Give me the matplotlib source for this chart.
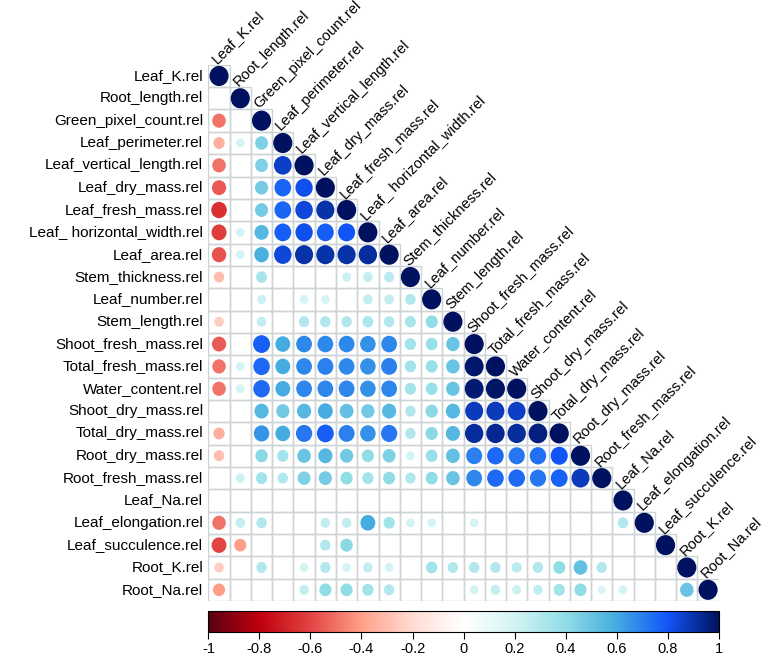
import numpy as np
import matplotlib
matplotlib.use("Agg")
from matplotlib import pyplot as plt
from matplotlib.colors import LinearSegmentedColormap, Normalize
from matplotlib.patches import Ellipse, Rectangle
from matplotlib.cm import ScalarMappable

plt.rcParams['font.family'] = ['Liberation Sans', 'DejaVu Sans']

variables = ['Leaf_K.rel', 'Root_length.rel', 'Green_pixel_count.rel', 'Leaf_perimeter.rel',
             'Leaf_vertical_length.rel', 'Leaf_dry_mass.rel', 'Leaf_fresh_mass.rel',
             'Leaf_ horizontal_width.rel', 'Leaf_area.rel', 'Stem_thickness.rel',
             'Leaf_number.rel', 'Stem_length.rel', 'Shoot_fresh_mass.rel',
             'Total_fresh_mass.rel', 'Water_content.rel', 'Shoot_dry_mass.rel',
             'Total_dry_mass.rel', 'Root_dry_mass.rel', 'Root_fresh_mass.rel',
             'Leaf_Na.rel', 'Leaf_elongation.rel', 'Leaf_succulence.rel',
             'Root_K.rel', 'Root_Na.rel']

N = None
# lower triangle, row i holds correlations with columns 0..i-1 (None = not significant)
lower = [
    [],
    [N],
    [-0.5, N],
    [-0.35, 0.2, 0.45],
    [-0.5, N, 0.45, 0.86],
    [-0.55, N, 0.47, 0.76, 0.82],
    [-0.66, N, 0.47, 0.76, 0.84, 0.9],
    [-0.62, 0.2, 0.55, 0.78, 0.82, 0.78, 0.8],
    [-0.57, 0.2, 0.58, 0.84, 0.9, 0.9, 0.9, 0.92],
    [-0.3, N, 0.33, N, N, N, 0.22, 0.25, 0.28],
    [N, N, 0.22, N, 0.2, 0.2, N, 0.25, 0.25, 0.3],
    [-0.25, N, 0.25, N, 0.3, 0.3, 0.3, 0.32, 0.3, 0.33, 0.4],
    [-0.55, N, 0.78, 0.6, 0.68, 0.68, 0.68, 0.66, 0.68, 0.35, 0.38, 0.5],
    [-0.5, 0.2, 0.75, 0.6, 0.68, 0.7, 0.68, 0.66, 0.7, 0.35, 0.38, 0.5, 0.98],
    [-0.5, 0.2, 0.75, 0.6, 0.68, 0.68, 0.68, 0.66, 0.68, 0.35, 0.38, 0.5, 0.97, 0.99],
    [N, N, 0.55, 0.48, 0.55, 0.6, 0.52, 0.48, 0.55, 0.3, 0.42, 0.55, 0.88, 0.88, 0.86],
    [-0.35, N, 0.65, 0.6, 0.72, 0.78, 0.7, 0.66, 0.72, 0.3, 0.42, 0.55, 0.92, 0.93, 0.92, 0.96],
    [-0.3, N, 0.42, 0.35, 0.5, 0.55, 0.48, 0.4, 0.45, 0.2, 0.38, 0.52, 0.7, 0.75, 0.72, 0.74, 0.8],
    [N, 0.22, 0.35, 0.3, 0.45, 0.47, 0.4, 0.35, 0.4, 0.3, 0.4, 0.5, 0.68, 0.75, 0.75, 0.72, 0.77, 0.88],
    [N] * 19,
    [-0.5, 0.25, 0.3, N, N, 0.25, 0.25, 0.6, 0.35, 0.2, 0.2, N, 0.2, N, N, N, N, N, N, 0.3],
    [-0.6, -0.4, N, N, N, 0.3, 0.42] + [N] * 14,
    [-0.25, N, 0.3, N, 0.2, 0.3, 0.2, 0.25, 0.2, N, 0.35, 0.3, 0.3, 0.3, 0.28, 0.3, 0.4, 0.52, 0.3, N, N, N],
    [-0.4, N, N, N, 0.25, 0.4, 0.4, 0.35, 0.3, N, N, N, 0.2, 0.25, 0.22, 0.25, 0.35, 0.4, 0.18, 0.2, N, N, 0.5],
]

cb_ticks = [-1, -0.8, -0.6, -0.4, -0.2, 0, 0.2, 0.4, 0.6, 0.8, 1]
cb_labels = ['-1', '-0.8', '-0.6', '-0.4', '-0.2', '0', '0.2', '0.4', '0.6', '0.8', '1']

cmap = LinearSegmentedColormap.from_list('corr', [
    (0.0, '#5a0014'), (0.1, '#c0000c'), (0.2, '#e24444'), (0.3, '#ffa08a'),
    (0.4, '#ffdcd3'), (0.5, '#ffffff'), (0.6, '#d4f3f5'), (0.7, '#92dee6'),
    (0.8, '#44ace0'), (0.9, '#1256fa'), (1.0, '#00125f')])
norm = Normalize(-1, 1)

n = len(variables)
fig = plt.figure(figsize=(7.8, 6.58), dpi=100)
W, H = 780, 658
left, right, top, bottom = 208.4, 718.7, 64.8, 601.0
ax = fig.add_axes([left / W, 1 - bottom / H, (right - left) / W, (bottom - top) / H])
ax.set_xlim(-0.5, n - 0.5)
ax.set_ylim(n - 0.5, -0.5)
ax.axis('off')

gridcol = '#cdd3d6'
for i in range(n):
    row = lower[i] + [1.0]
    for j, r in enumerate(row):
        ax.add_patch(Rectangle((j - 0.5, i - 0.5), 1, 1, fill=False,
                               edgecolor=gridcol, linewidth=1.0, zorder=1))
        if r is None:
            continue
        d = 0.9 * np.sqrt(abs(r))
        ax.add_patch(Ellipse((j, i), d, d, facecolor=cmap(norm(r)),
                             edgecolor='none', zorder=2))

for i, name in enumerate(variables):
    ax.text(-0.75, i, name, ha='right', va='center', fontsize=11, clip_on=False)
    ax.text(i - 0.1, i - 0.52, name, ha='left', va='baseline', rotation=45,
            rotation_mode='anchor', fontsize=10.6, clip_on=False)

cax = fig.add_axes([left / W, 1 - 632 / H, (right - left) / W, 21 / H])
cb = fig.colorbar(ScalarMappable(norm=norm, cmap=cmap), cax=cax, orientation='horizontal')
cb.set_ticks(cb_ticks)
cb.set_ticklabels(cb_labels)
cb.outline.set_linewidth(0.8)
cax.tick_params(axis='x', length=5, width=0.8, labelsize=10.5, pad=2)

fig.savefig('out.png', dpi=100)
